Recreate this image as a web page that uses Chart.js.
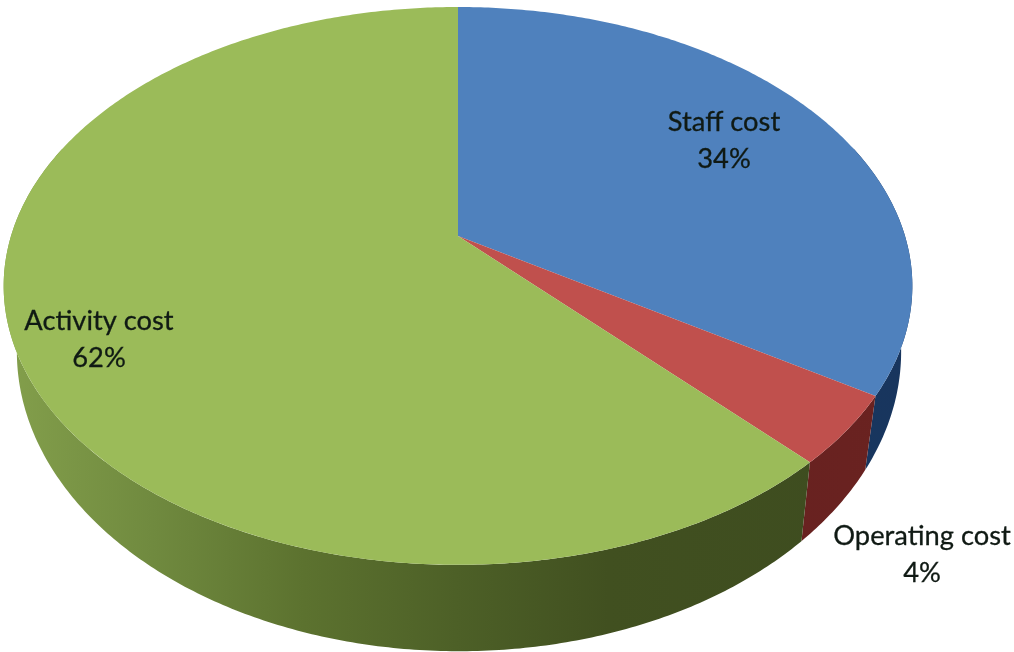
<!DOCTYPE html>
<html>
<head>
<meta charset="utf-8">
<style>html,body{margin:0;padding:0;background:#fff}canvas{display:block}</style>
<script src="https://cdn.jsdelivr.net/npm/chart.js@4"></script>
</head>
<body>
<div style="width:1014px;height:652px"><canvas id="c" width="1014" height="652"></canvas></div>
<script>
const categories = ['Staff cost', 'Operating cost', 'Activity cost'];
const shares = [34, 4, 62];
const topColors = ['#4f81bd', '#c0504d', '#9bbb59'];

// View of the tilted disc: top face and bottom rim, with perspective factor k
const topFace = {cx: 458, cy: 236, A: 447, B: 270, k: 0.179};
const rimFace = {cx: 459, cy: 298, A: 435, B: 290, k: 0.179};
const labelPlace = [
  {x: 724, y1: 131, y2: 168},
  {x: 922, y1: 545, y2: 582},
  {x: 99, y1: 330, y2: 367}
];
const sideStops = [
  [[0, '#1f3f6b'], [1, '#17345c']],
  [[0, '#5a1d1c'], [1, '#6c2321']],
  [[0, '#84a04c'], [0.15, '#708a3f'], [0.3, '#5c722f'], [0.45, '#4d6027'], [0.6, '#415020'], [1, '#3c4a1f']]
];

function project(f, a) {
  const u = Math.cos(a), v = Math.sin(a), d = 1 - f.k * v;
  return [f.cx + f.A * u / d, f.cy + f.B * v / d];
}
function trace(ctx, f, a0, a1, first) {
  const n = Math.max(2, Math.ceil(Math.abs(a1 - a0) / 0.01));
  for (let i = 0; i <= n; i++) {
    const p = project(f, a0 + (a1 - a0) * i / n);
    if (i === 0 && first) ctx.moveTo(p[0], p[1]); else ctx.lineTo(p[0], p[1]);
  }
}

const tiltedPie = {
  id: 'tiltedPie',
  beforeDatasetsDraw(chart) {
    const ctx = chart.ctx;
    const arcs = chart.getDatasetMeta(0).data;
    ctx.save();
    ctx.filter = 'blur(0.6px)';
    // Sides first, only the part facing the viewer
    arcs.forEach((arc, i) => {
      const a0 = Math.max(arc.startAngle, -0.35);
      const a1 = Math.min(arc.endAngle, Math.PI + 0.35);
      if (a1 <= a0) return;
      const g = ctx.createLinearGradient(0, 0, chart.width, 0);
      sideStops[i].forEach(s => g.addColorStop(s[0], s[1]));
      ctx.fillStyle = g;
      ctx.beginPath();
      trace(ctx, topFace, a0, a1, true);
      trace(ctx, rimFace, a1, a0, false);
      ctx.closePath();
      ctx.fill();
    });
    // Top face from the element angles
    arcs.forEach((arc, i) => {
      ctx.fillStyle = topColors[i];
      ctx.beginPath();
      ctx.moveTo(topFace.cx, topFace.cy);
      trace(ctx, topFace, arc.startAngle, arc.endAngle, false);
      ctx.closePath();
      ctx.fill();
    });
    ctx.restore();
    return false;
  },
  afterDraw(chart) {
    const ctx = chart.ctx;
    ctx.save();
    ctx.filter = 'blur(0.4px)';
    ctx.font = '27.3px Lato';
    ctx.textAlign = 'center';
    ctx.textBaseline = 'alphabetic';
    ctx.fillStyle = '#101a14';
    ctx.strokeStyle = '#101a14';
    ctx.lineWidth = 0.3;
    categories.forEach((name, i) => {
      const p = labelPlace[i];
      const share = shares[i] + '%';
      ctx.fillText(name, p.x, p.y1);
      ctx.strokeText(name, p.x, p.y1);
      ctx.fillText(share, p.x, p.y2);
      ctx.strokeText(share, p.x, p.y2);
    });
    ctx.restore();
  }
};

new Chart(document.getElementById('c'), {
  type: 'pie',
  data: {labels: categories, datasets: [{data: shares, backgroundColor: topColors, borderWidth: 0}]},
  options: {
    responsive: false,
    animation: false,
    devicePixelRatio: 1,
    plugins: {legend: {display: false}, tooltip: {enabled: false}}
  },
  plugins: [tiltedPie]
});
</script>
</body>
</html>
